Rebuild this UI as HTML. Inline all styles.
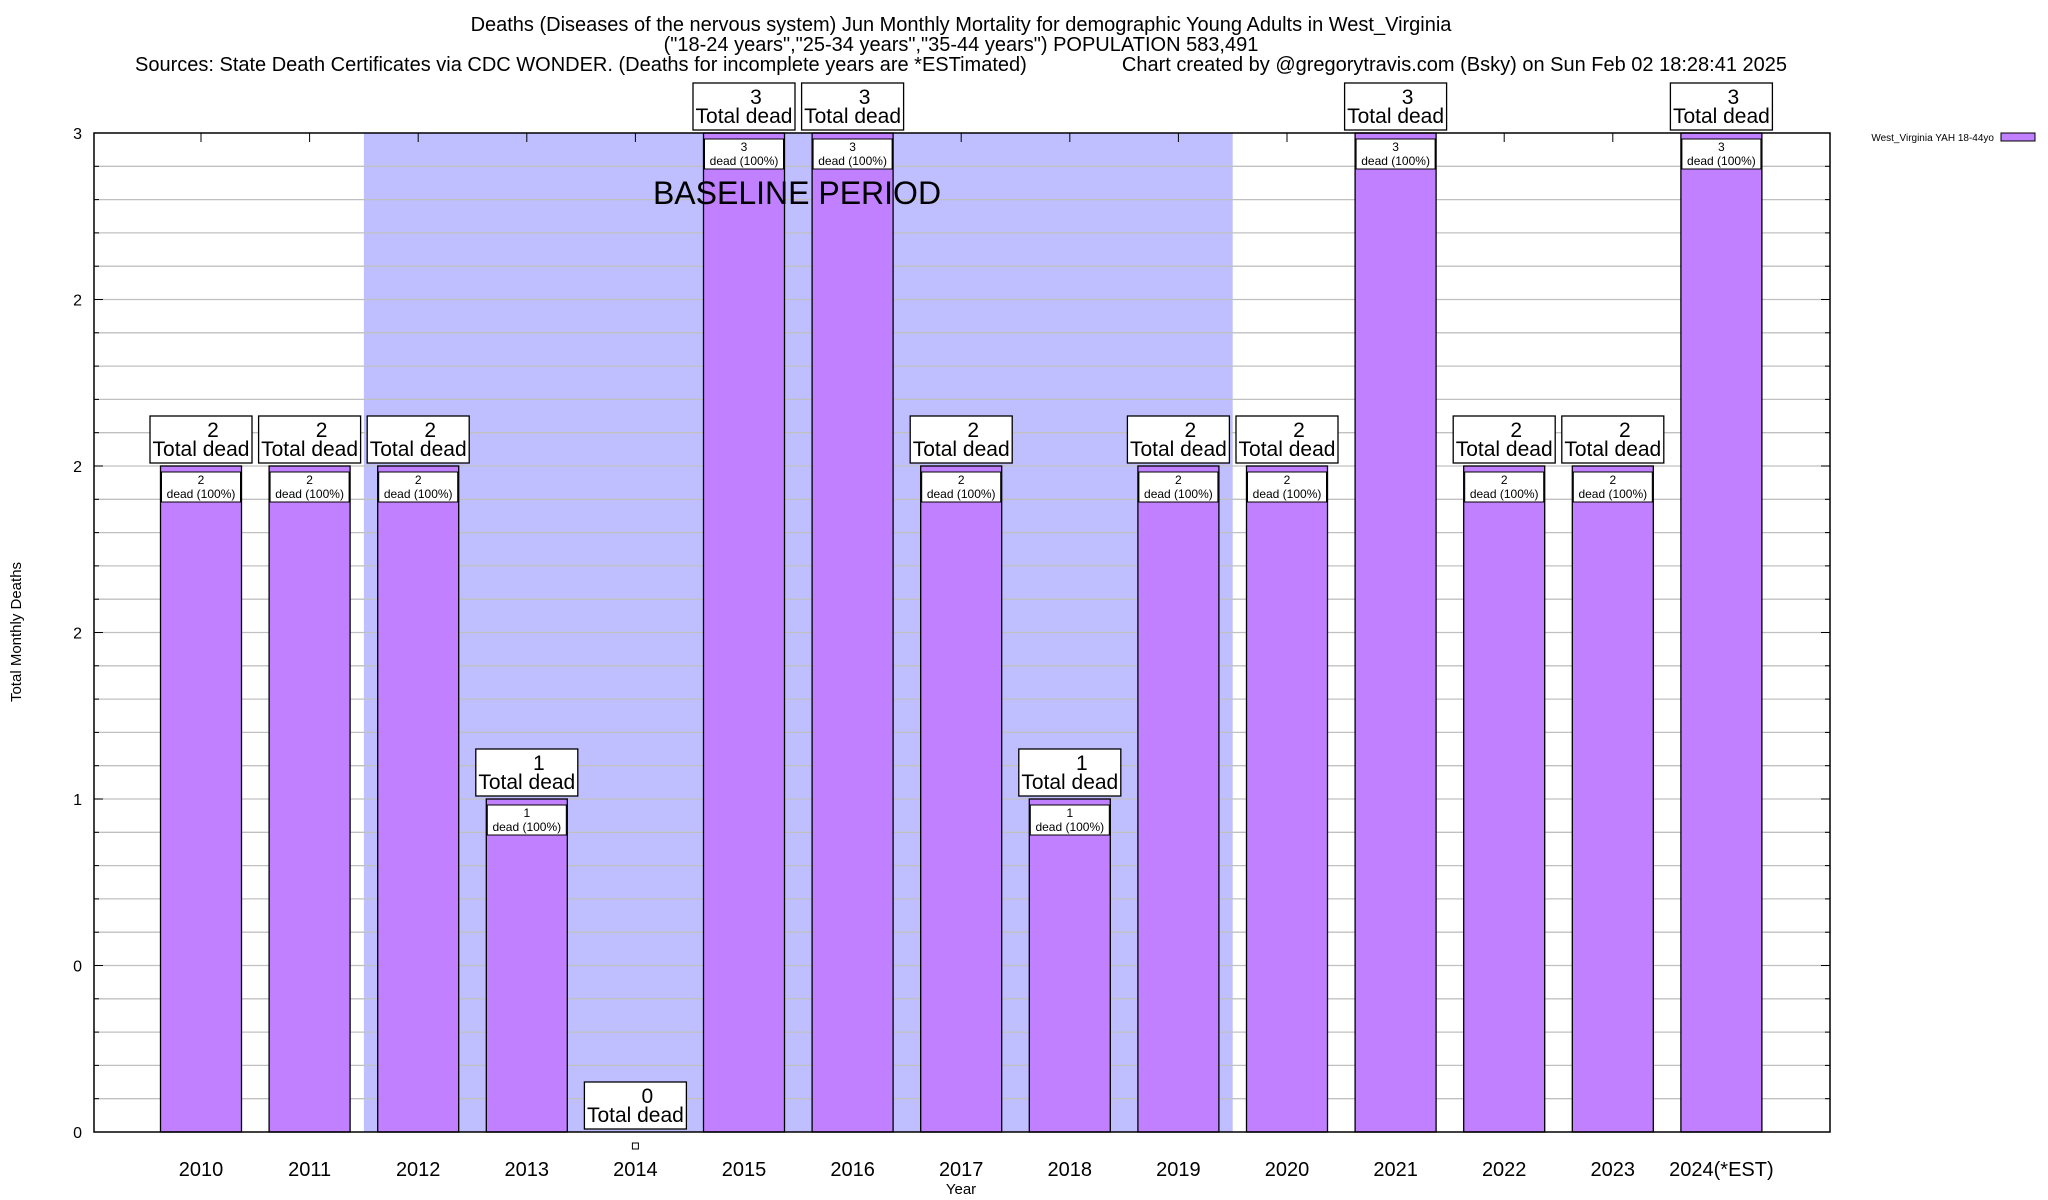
<!DOCTYPE html>
<html><head><meta charset="utf-8"><style>
html,body{margin:0;padding:0;background:#fff;}
svg{display:block;font-family:"Liberation Sans",sans-serif;}
</style></head><body>
<svg id="chart" width="2048" height="1200" viewBox="0 0 2048 1200">
<g font-size="20" text-anchor="middle" fill="#000">
<text x="961" y="31">Deaths (Diseases of the nervous system) Jun Monthly Mortality for demographic Young Adults in West_Virginia</text>
<text x="961" y="51">("18-24 years","25-34 years","35-44 years") POPULATION 583,491</text>
<text x="135" y="71" text-anchor="start">Sources: State Death Certificates via CDC WONDER. (Deaths for incomplete years are *ESTimated)</text>
<text x="1787" y="71" text-anchor="end">Chart created by @gregorytravis.com (Bsky) on Sun Feb 02 18:28:41 2025</text>
</g>
<g id="plot"></g>
</svg>
<script>
const categories = ["2010","2011","2012","2013","2014","2015","2016","2017","2018","2019","2020","2021","2022","2023","2024(*EST)"];
const deaths = [2,2,2,1,0,3,3,2,1,2,2,3,2,2,3];
const yTickValues = [0,0.5,1,1.5,2,2.5,3];
const yTickLabels = ["0","0","1","2","2","2","3"];
const baselineStart = 1.5, baselineEnd = 9.5; // category index range

const NS = "http://www.w3.org/2000/svg";
const L = 94, R = 1830, T = 133, B = 1132;
const yMax = 3;
const step = 108.6, x0 = 201;
function xs(i){ return x0 + i*step; }
function ys(v){ return B - (v / yMax) * (B - T); }
const g = document.getElementById('plot');
function el(tag, attrs, parent){
  const e = document.createElementNS(NS, tag);
  for (const k in attrs) e.setAttribute(k, attrs[k]);
  (parent || g).appendChild(e);
  return e;
}
function txt(x,y,s,size,anchor,parent){
  const t = el('text',{x:x,y:y,'font-size':size,'text-anchor':anchor||'middle',fill:'#000'},parent);
  t.textContent = s;
  return t;
}
const shade = el('rect',{x:xs(baselineStart),y:T,width:xs(baselineEnd)-xs(baselineStart),height:B-T,fill:'#bfbfff'});


for (let k=1;k<30;k++){
  const v = k*0.1, y = ys(v);
  const gl = el('line',{x1:L,x2:R,y1:y,y2:y,stroke:'#c0c0c0','stroke-width':1.3});
  
  
  const tk = el('line',{x1:L,x2:L+(k%5==0?9:5),y1:y,y2:y,stroke:'#000'});
  
  
  const tk2 = el('line',{x1:R,x2:R-(k%5==0?9:5),y1:y,y2:y,stroke:'#000'});
  
  
}
yTickValues.forEach((v,i)=>{
  const t = txt(L-12, ys(v)+6, yTickLabels[i], 16, 'end');
  
  
});
const bw = 81;
categories.forEach((c,i)=>{
  const cx = xs(i), v = deaths[i], yt = ys(v);
  const grp = el('g',{});
  
  
  const tk = el('line',{x1:cx,x2:cx,y1:T,y2:T+9,stroke:'#000'},grp);
  
  
  if (v > 0){
    const r = el('rect',{x:cx-bw/2,y:yt,width:bw,height:B-yt,fill:'#c080ff',stroke:'#000','stroke-width':1.3},grp);
    
    
    const ib = el('rect',{x:cx-bw/2+1,y:yt+6,width:bw-2,height:30,fill:'#fff',stroke:'#000','stroke-width':1},grp);
    
    
    const a = txt(cx, yt+18, String(v), 12, 'middle', grp);
    
    
    const b = txt(cx, yt+32, 'dead (100%)', 12, 'middle', grp);
    
    
  } else {
    const m = el('rect',{x:cx-3,y:B+11,width:6,height:6,fill:'#fff',stroke:'#000'},grp);
    
    
  }
  const ob = el('rect',{x:cx-51,y:yt-50,width:102,height:47,fill:'#fff',stroke:'#000','stroke-width':1.3},grp);
  
  
  const n = txt(cx+12, yt-29, String(v), 21, 'middle', grp);
  
  
  const td = txt(cx, yt-10, 'Total dead', 21, 'middle', grp);
  
  
  const xl = txt(cx, 1176, c, 20, 'middle', grp);
  
  
});
const bl = txt(797, 204, 'BASELINE PERIOD', 32);


const fr = el('rect',{x:L,y:T,width:R-L,height:B-T,fill:'none',stroke:'#000','stroke-width':1.5});


const yt = txt(0,0,'Total Monthly Deaths',15,'middle');
yt.setAttribute('transform','translate(21,632) rotate(-90)');


const xt = txt(961,1194,'Year',15,'middle');


const lg = el('g',{});


const lt = txt(1994,141,'West_Virginia YAH 18-44yo',10,'end',lg);


const ls = el('rect',{x:2001,y:133,width:34,height:8,fill:'#c080ff',stroke:'#000'},lg);


</script>
</body></html>
